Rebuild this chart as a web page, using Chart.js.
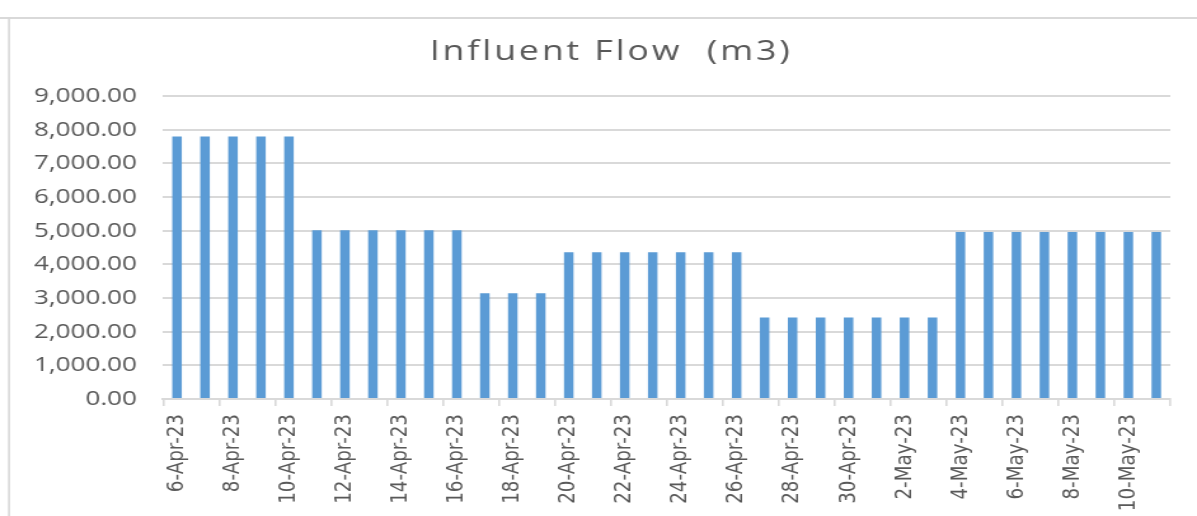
<!DOCTYPE html>
<html>
<head>
<meta charset="utf-8">
<script src="https://cdn.jsdelivr.net/npm/chart.js@4/dist/chart.umd.min.js"></script>
<style>
  html, body { margin: 0; padding: 0; background: #ffffff; overflow: hidden; }
  #wrap { position: absolute; left: 0; top: 0; width: 942px; height: 516px;
          transform: scaleX(1.2707); transform-origin: 0 0; }
</style>
</head>
<body>
<div id="wrap"><canvas id="c" width="942" height="516"></canvas></div>
<script>
const chartTitle = 'Influent Flow  (m3)';
const categories = [
  '6-Apr-23','7-Apr-23','8-Apr-23','9-Apr-23','10-Apr-23',
  '11-Apr-23','12-Apr-23','13-Apr-23','14-Apr-23','15-Apr-23','16-Apr-23',
  '17-Apr-23','18-Apr-23','19-Apr-23',
  '20-Apr-23','21-Apr-23','22-Apr-23','23-Apr-23','24-Apr-23','25-Apr-23','26-Apr-23',
  '27-Apr-23','28-Apr-23','29-Apr-23','30-Apr-23','1-May-23','2-May-23','3-May-23',
  '4-May-23','5-May-23','6-May-23','7-May-23','8-May-23','9-May-23','10-May-23','11-May-23'
];
const influentFlow = [
  7800, 7800, 7800, 7800, 7800,
  5010, 5010, 5010, 5010, 5010, 5010,
  3140, 3140, 3140,
  4360, 4360, 4360, 4360, 4360, 4360, 4360,
  2420, 2420, 2420, 2420, 2420, 2420, 2420,
  4960, 4960, 4960, 4960, 4960, 4960, 4960, 4960
];
const yTicks = [0, 1000, 2000, 3000, 4000, 5000, 6000, 7000, 8000, 9000];

const framePlugin = {
  id: 'frame',
  beforeDraw(chart) {
    const ctx = chart.ctx;
    ctx.save();
    ctx.fillStyle = '#ffffff';
    ctx.fillRect(0, 0, chart.width, chart.height);
    ctx.strokeStyle = '#d9d9d9';
    ctx.lineWidth = 2;
    ctx.beginPath();
    ctx.moveTo(0, 18);
    ctx.lineTo(chart.width, 18);
    ctx.stroke();
    ctx.lineWidth = 1.6;
    ctx.beginPath();
    ctx.moveTo(7.1, chart.height);
    ctx.lineTo(7.1, 17);
    ctx.stroke();
    ctx.restore();
  }
};

const titlePlugin = {
  id: 'customTitle',
  afterDraw(chart) {
    const ctx = chart.ctx;
    ctx.save();
    ctx.fillStyle = '#595959';
    ctx.font = '28px "Open Sans", "Noto Sans", sans-serif';
    ctx.letterSpacing = '2.3px';
    ctx.textAlign = 'center';
    ctx.textBaseline = 'alphabetic';
    ctx.fillText(chartTitle, 481, 60);
    ctx.restore();
  }
};

new Chart(document.getElementById('c'), {
  type: 'bar',
  data: {
    labels: categories,
    datasets: [{
      data: influentFlow,
      backgroundColor: '#5b9bd5',
      borderWidth: 0,
      categoryPercentage: 1,
      barPercentage: 0.34
    }]
  },
  options: {
    responsive: false,
    animation: false,
    devicePixelRatio: 1,
    layout: { padding: { left: 15, right: 21, top: 96, bottom: 0 } },
    plugins: {
      legend: { display: false },
      title: { display: false },
      tooltip: { enabled: false }
    },
    scales: {
      x: {
        offset: true,
        afterFit(s) { s.height = 117; },
        border: { display: true, color: '#d9d9d9', width: 2 },
        grid: {
          offset: true,
          drawOnChartArea: false,
          drawTicks: true,
          tickLength: 7,
          lineWidth: 1.6,
          color: (c) => (c.index === undefined || c.index % 2 === 0) ? '#d9d9d9' : 'rgba(0,0,0,0)'
        },
        ticks: {
          autoSkip: false,
          maxRotation: 90,
          minRotation: 90,
          padding: 8,
          color: '#595959',
          font: { family: 'DejaVu Sans', size: 18.3 },
          callback(v, i) { return i % 2 === 0 ? categories[i] : ''; }
        }
      },
      y: {
        min: 0,
        max: 9000,
        afterFit(s) { s.width = 113.3; },
        afterBuildTicks(s) { s.ticks = yTicks.map(v => ({ value: v })); },
        border: { display: false },
        grid: { drawTicks: false, color: '#d9d9d9', lineWidth: 2 },
        ticks: {
          padding: 20.5,
          color: '#595959',
          font: { family: '"Open Sans", "Noto Sans", sans-serif', size: 20.5 },
          callback(v) { return v.toLocaleString('en-US', { minimumFractionDigits: 2, maximumFractionDigits: 2 }); }
        }
      }
    }
  },
  plugins: [framePlugin, titlePlugin]
});
</script>
</body>
</html>
